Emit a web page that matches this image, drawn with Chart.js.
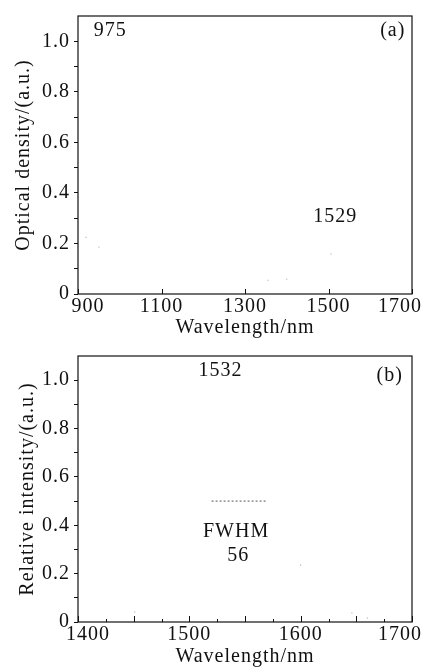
<!DOCTYPE html>
<html>
<head>
<meta charset="utf-8">
<script src="https://cdn.jsdelivr.net/npm/chart.js@4.4.0/dist/chart.umd.min.js"></script>
<style>
  html,body{margin:0;padding:0;background:#fff;}
  #wrap{width:426px;height:670px;}
  canvas{display:block;}
</style>
</head>
<body>
<div id="wrap">
  <canvas id="absChart" width="426" height="340"></canvas>
  <canvas id="emChart" width="426" height="330"></canvas>
</div>
<script>
// (a) absorption: only faint remnants of the curve are visible
const absFaintX = [919, 950, 1355, 1400, 1506];
const absFaintY = [0.224, 0.185, 0.054, 0.058, 0.158];
const absNotes = ['975', '(a)', '1529'];
const absNoteX = [977, 1654, 1516];
const absNoteY = [1.04, 1.04, 0.305];

// (b) emission
const emFaintX = [1451, 1600, 1646, 1660];
const emFaintY = [0.041, 0.235, 0.037, 0.016];
const fwhmX = [1520, 1570];
const fwhmY = [0.5, 0.5];
const emNotes = ['1532', '(b)', 'FWHM', '56'];
const emNoteX = [1528, 1680, 1542, 1544];
const emNoteY = [1.037, 1.02, 0.375, 0.276];

const yMax = 1.1;
const yStep = 0.1;
const xTicksAbs = [900, 1100, 1300, 1500, 1700];
const xTicksEm = [1400, 1500, 1600, 1700];

const FONT = '"Liberation Serif", "Times New Roman", serif';
const INK = '#111';

const pts = (xs, ys) => xs.map((x, i) => ({x, y: ys[i]}));

// box around plot, inward x ticks, x tick labels, text notes
const framePlugin = {
  id: 'frame',
  beforeDraw(chart){ chart.ctx.letterSpacing = '1px'; },
  afterDraw(chart, args, opts){
    const {ctx, chartArea: a, scales: {x, y}} = chart;
    ctx.save();
    ctx.strokeStyle = INK;
    ctx.lineWidth = 1.2;
    ctx.strokeRect(a.left, a.top, a.right - a.left, a.bottom - a.top);
    ctx.lineWidth = 1;
    x.ticks.forEach(t => {
      const px = Math.round(x.getPixelForValue(t.value)) + 0.5;
      const len = opts.tickLen(t.value);
      ctx.beginPath();
      ctx.moveTo(px, a.bottom);
      ctx.lineTo(px, a.bottom - len);
      ctx.stroke();
    });
    ctx.fillStyle = INK;
    ctx.font = '20px ' + FONT;
    ctx.textAlign = 'center';
    ctx.textBaseline = 'middle';
    // x tick labels; the end labels sit a little inside the frame
    opts.xlabels.forEach((v, i) => {
      let px = x.getPixelForValue(v);
      if (i === 0) px += 10;
      if (i === opts.xlabels.length - 1) px -= 12;
      ctx.fillText(String(v), px, a.bottom + 13);
    });
    opts.notes.forEach((s, i) => {
      ctx.fillText(s, x.getPixelForValue(opts.nx[i]), y.getPixelForValue(opts.ny[i]));
    });
    ctx.restore();
  }
};

function yLabel(v){
  const k = Math.round(v * 10);
  if (k % 2) return '';
  return k === 0 ? '0' : v.toFixed(1);
}

function makeChart(id, cfg){
  return new Chart(document.getElementById(id), {
    type: 'scatter',
    data: {datasets: cfg.datasets},
    plugins: [framePlugin],
    options: {
      responsive: false,
      animation: false,
      layout: {padding: {top: cfg.top, right: 14, left: 0, bottom: 0}},
      plugins: {
        legend: {display: false},
        tooltip: {enabled: false},
        frame: {notes: cfg.notes, nx: cfg.nx, ny: cfg.ny, tickLen: cfg.tickLen, xlabels: cfg.xlabels}
      },
      scales: {
        x: {
          type: 'linear', min: cfg.xmin, max: cfg.xmax,
          afterFit: s => { s.height = cfg.xh; s.paddingLeft = 0; s.paddingRight = 0; },
          afterBuildTicks: s => { s.ticks = cfg.xticks.map(v => ({value: v})); },
          grid: {display: false},
          border: {display: false},
          ticks: {
            color: INK, padding: 0, maxRotation: 0, autoSkip: false,
            font: {family: FONT, size: 20},
            callback: () => ''
          },
          title: {display: true, text: 'Wavelength/nm', color: INK,
                  font: {family: FONT, size: 20}, padding: {top: 0, bottom: cfg.xtPad}}
        },
        y: {
          min: 0, max: yMax,
          afterFit: s => { s.width = 78; },
          afterBuildTicks: s => { s.ticks = s.ticks.filter(t => t.value <= 1.0001); },
          grid: {display: true, drawOnChartArea: false, drawTicks: true, tickLength: 4,
                 color: INK, lineWidth: 1},
          border: {display: false},
          ticks: {
            stepSize: yStep, color: INK, padding: 4, autoSkip: false,
            font: {family: FONT, size: 20}, callback: yLabel
          },
          title: {display: true, text: cfg.ytitle, color: INK,
                  font: {family: FONT, size: 20}, padding: {top: cfg.ytPad, bottom: 0}}
        }
      }
    }
  });
}

makeChart('absChart', {
  top: 9, xh: 46, xtPad: 0, ytPad: 12,
  xmin: 900, xmax: 1700, xticks: xTicksAbs, xlabels: xTicksAbs,
  tickLen: () => 5,
  ytitle: 'Optical density/(a.u.)',
  notes: absNotes, nx: absNoteX, ny: absNoteY,
  datasets: [
    {label: 'faint', data: pts(absFaintX, absFaintY), pointRadius: 0.8,
     pointBackgroundColor: '#c8c8c8', pointBorderWidth: 0}
  ]
});

makeChart('emChart', {
  top: 15, xh: 48, xtPad: 1, ytPad: 16,
  xmin: 1400, xmax: 1700,
  xticks: [1400,1425,1450,1475,1500,1525,1550,1575,1600,1625,1650,1675,1700],
  xlabels: xTicksEm,
  tickLen: v => (v % 50 === 0 ? 6 : 3),
  ytitle: 'Relative intensity/(a.u.)',
  notes: emNotes, nx: emNoteX, ny: emNoteY,
  datasets: [
    {label: 'FWHM', data: pts(fwhmX, fwhmY), showLine: true, borderColor: '#555',
     borderWidth: 1, borderDash: [2, 2], pointRadius: 0},
    {label: 'faint', data: pts(emFaintX, emFaintY), pointRadius: 0.8,
     pointBackgroundColor: '#c8c8c8', pointBorderWidth: 0}
  ]
});
</script>
</body>
</html>
